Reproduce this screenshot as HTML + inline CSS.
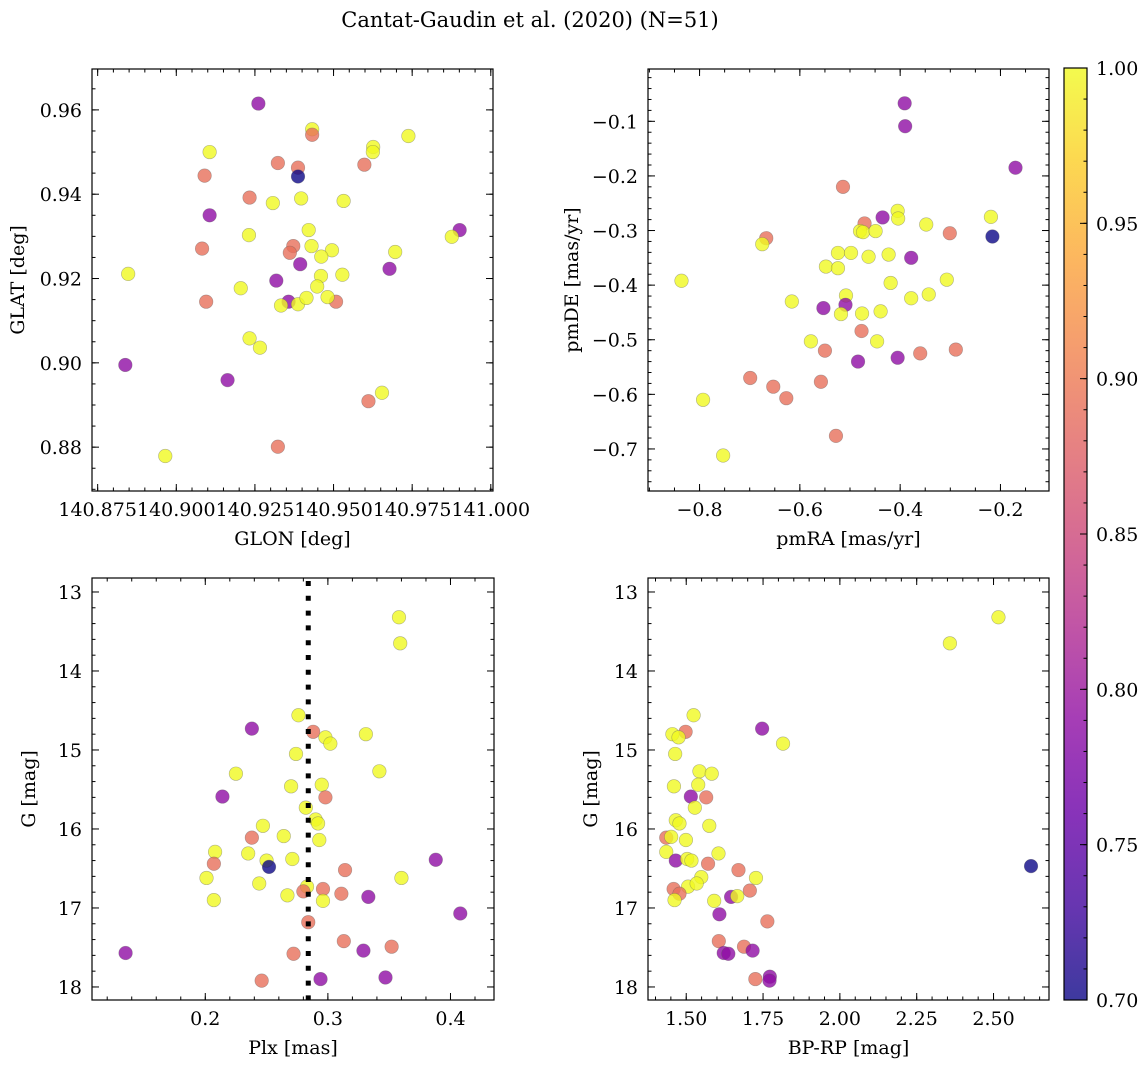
<!DOCTYPE html>
<html><head><meta charset="utf-8">
<style>
html,body{margin:0;padding:0;background:#fff;}
svg{display:block;font-family:"DejaVu Serif","Liberation Serif",serif;}
</style></head>
<body>
<svg id="fig" width="1148" height="1068" viewBox="0 0 1148 1068" xmlns="http://www.w3.org/2000/svg">
<text x="530" y="27" font-size="21" text-anchor="middle">Cantat-Gaudin et al. (2020) (N=51)</text>
</svg>
<script>
// ---- data: panel 1 (GLON vs GLAT) ----
const glon = [140.9261,140.9432,140.9432,140.9738,140.9626,140.9625,140.9106,140.9323,140.9387,140.9387,140.9598,140.9090,140.9233,140.9397,140.9307,140.9532,140.9106,140.9901,140.9876,140.9421,140.9231,140.9372,140.9361,140.9082,140.9430,140.9495,140.9461,140.9696,140.9394,140.9678,140.8847,140.9318,140.9460,140.9528,140.9205,140.9448,140.9357,140.9095,140.9508,140.9333,140.9387,140.9414,140.9481,140.9233,140.9266,140.8838,140.9163,140.9654,140.9611,140.9323,140.8965];
const glat = [0.9615,0.9554,0.9541,0.9538,0.9512,0.9500,0.9500,0.9474,0.9463,0.9442,0.9470,0.9444,0.9392,0.9390,0.9379,0.9384,0.9350,0.9315,0.9299,0.9315,0.9303,0.9277,0.9261,0.9271,0.9277,0.9267,0.9252,0.9263,0.9234,0.9223,0.9211,0.9195,0.9206,0.9209,0.9177,0.9181,0.9145,0.9145,0.9145,0.9136,0.9139,0.9154,0.9156,0.9058,0.9036,0.8995,0.8959,0.8929,0.8909,0.8801,0.8779];
const prob1 = "pyoyyyyoodoooyyyppyyyoooyyyyppypyyyypooyyyyyyppyooy";
// ---- data: panel 2 (pmRA vs pmDE) ----
const pmra = [-0.391,-0.390,-0.170,-0.514,-0.405,-0.404,-0.435,-0.471,-0.480,-0.474,-0.449,-0.348,-0.301,-0.219,-0.216,-0.667,-0.675,-0.524,-0.498,-0.463,-0.423,-0.378,-0.548,-0.524,-0.836,-0.419,-0.307,-0.508,-0.616,-0.553,-0.509,-0.378,-0.343,-0.518,-0.476,-0.439,-0.477,-0.578,-0.446,-0.550,-0.484,-0.405,-0.360,-0.289,-0.699,-0.653,-0.627,-0.558,-0.793,-0.528,-0.753];
const pmde = [-0.067,-0.109,-0.185,-0.220,-0.264,-0.278,-0.276,-0.287,-0.301,-0.303,-0.301,-0.289,-0.305,-0.275,-0.311,-0.314,-0.325,-0.341,-0.341,-0.348,-0.344,-0.350,-0.366,-0.369,-0.392,-0.396,-0.390,-0.419,-0.430,-0.442,-0.436,-0.424,-0.417,-0.453,-0.452,-0.448,-0.484,-0.503,-0.503,-0.520,-0.540,-0.533,-0.525,-0.518,-0.570,-0.586,-0.607,-0.577,-0.610,-0.676,-0.712];
const prob2 = "pppoyypoyyyyoydoyyyyypyyyyyyyppyyyyyoyyoppooooooyoyo";
// ---- data: panel 3 (Plx vs G) ----
const plx = [0.358,0.359,0.276,0.238,0.288,0.298,0.302,0.331,0.274,0.225,0.342,0.270,0.295,0.214,0.298,0.282,0.290,0.292,0.247,0.238,0.264,0.293,0.208,0.235,0.250,0.252,0.271,0.207,0.388,0.314,0.201,0.360,0.244,0.283,0.280,0.296,0.311,0.267,0.333,0.207,0.296,0.408,0.284,0.313,0.329,0.352,0.135,0.272,0.246,0.294,0.347];
const gmag3 = [13.32,13.65,14.56,14.73,14.77,14.84,14.92,14.80,15.05,15.30,15.27,15.46,15.44,15.59,15.60,15.73,15.88,15.93,15.96,16.11,16.09,16.14,16.29,16.31,16.40,16.48,16.38,16.44,16.39,16.52,16.62,16.62,16.69,16.73,16.79,16.76,16.82,16.84,16.86,16.90,16.91,17.07,17.18,17.42,17.54,17.49,17.57,17.58,17.92,17.90,17.88];
const prob3 = "yyypoyyyyyyyypoyyyyoyyyyydyopoyyyyoooypyypoopopoopp";
const plxMarker = [0.284];
// ---- data: panel 4 (BP-RP vs G) ----
const bprp = [2.516,2.358,1.524,1.747,1.498,1.455,1.475,1.815,1.464,1.543,1.583,1.460,1.539,1.515,1.565,1.528,1.466,1.478,1.575,1.435,1.451,1.499,1.435,1.605,1.466,1.503,1.517,2.622,1.571,1.670,1.727,1.549,1.506,1.534,1.459,1.478,1.707,1.462,1.646,1.666,1.591,1.608,1.764,1.606,1.688,1.716,1.622,1.637,1.725,1.772,1.771];
const gmag4 = [13.32,13.65,14.56,14.73,14.77,14.80,14.84,14.92,15.05,15.27,15.30,15.46,15.44,15.59,15.60,15.73,15.89,15.93,15.96,16.11,16.10,16.14,16.29,16.31,16.40,16.38,16.40,16.47,16.44,16.52,16.62,16.61,16.73,16.69,16.76,16.82,16.78,16.90,16.86,16.85,16.91,17.08,17.17,17.42,17.49,17.54,17.57,17.58,17.90,17.87,17.92];
const prob4 = "yyypoyyyyyyyypoyyyyoyyyypyydooyyyyoooypyypooopppoppo";
const probLevels = {y:1.0, o:0.89, p:0.79, d:0.70};
// ---- tick labels ----
const p1xTicks = [140.875,140.900,140.925,140.950,140.975,141.000];
const p1yTicks = [0.88,0.90,0.92,0.94,0.96];
const p2xTicks = [-0.8,-0.6,-0.4,-0.2];
const p2yTicks = [-0.7,-0.6,-0.5,-0.4,-0.3,-0.2,-0.1];
const p3xTicks = [0.2,0.3,0.4];
const gTicks = [13,14,15,16,17,18];
const p4xTicks = [1.50,1.75,2.00,2.25,2.50];
const cbTicks = [0.70,0.75,0.80,0.85,0.90,0.95,1.00];

const NS = "http://www.w3.org/2000/svg";
const svg = document.getElementById('fig');
const FS = 19;
function mk(tag, attrs, parent){const e=document.createElementNS(NS,tag);for(const k in attrs)e.setAttribute(k,attrs[k]);(parent||svg).appendChild(e);return e;}

const plasma = [[13,8,135],[65,4,157],[106,0,168],[143,13,164],[177,42,144],[204,71,120],[225,100,98],[242,132,75],[252,166,54],[252,206,37],[240,249,33]];
function cmap(v){let t=(v-0.7)/0.3;t=Math.max(0,Math.min(1,t));const s=t*10;const i=Math.min(9,Math.floor(s));const f=s-i;const a=plasma[i],b=plasma[i+1];
  return 'rgb('+[0,1,2].map(k=>Math.round(a[k]+(b[k]-a[k])*f)).join(',')+')';}
function fmt(v){return v<0?'\u2212'+Math.abs(v).toString():String(v);}

function panel(o){
  const g=mk('g',{});
  
  
  const sx=v=>o.x0+(v-o.xd[0])/(o.xd[1]-o.xd[0])*(o.x1-o.x0);
  const sy=o.inv? (v=>o.y0+(v-o.yd[0])/(o.yd[1]-o.yd[0])*(o.y1-o.y0)) : (v=>o.y1-(v-o.yd[0])/(o.yd[1]-o.yd[0])*(o.y1-o.y0));
  const tg=mk('g',{stroke:'#000','stroke-width':1},g);
  const eps=1e-9;
  function ticks(dom,step,cb){const s=Math.ceil((Math.min(dom[0],dom[1])-eps)/step);for(let k=s;k*step<=Math.max(dom[0],dom[1])+eps;k++)cb(k*step);}
  ticks(o.xd,o.xminor,v=>{const x=sx(v);mk('line',{x1:x,x2:x,y1:o.y1,y2:o.y1-3.5},tg);mk('line',{x1:x,x2:x,y1:o.y0,y2:o.y0+3.5},tg);});
  ticks(o.yd,o.yminor,v=>{const y=sy(v);mk('line',{x1:o.x0,x2:o.x0+3.5,y1:y,y2:y},tg);mk('line',{x1:o.x1,x2:o.x1-3.5,y1:y,y2:y},tg);});
  o.xt.forEach(v=>{const x=sx(v);mk('line',{x1:x,x2:x,y1:o.y1,y2:o.y1-7},tg);mk('line',{x1:x,x2:x,y1:o.y0,y2:o.y0+7},tg);
    const t=mk('text',{x:x,y:o.y1+25,'font-size':FS,'text-anchor':'middle'},g);t.textContent=o.xfmt(v);
    
    });
  o.yt.forEach(v=>{const y=sy(v);mk('line',{x1:o.x0,x2:o.x0+7,y1:y,y2:y},tg);mk('line',{x1:o.x1,x2:o.x1-7,y1:y,y2:y},tg);
    const t=mk('text',{x:o.x0-10,y:y+7,'font-size':FS,'text-anchor':'end'},g);t.textContent=o.yfmt(v);
    
    });
  const pg=mk('g',{},g);
  
  
  for(let i=0;i<o.xs.length;i++){
    const c=mk('circle',{cx:sx(o.xs[i]),cy:sy(o.ys[i]),r:6.8,fill:cmap(probLevels[o.c[i]]),'fill-opacity':0.8,stroke:'rgba(90,90,90,0.45)','stroke-width':0.6},pg);
    
    
  }
  if(o.vline){o.vline.forEach(v=>{const l=mk('line',{x1:sx(v),x2:sx(v),y1:o.y0+3,y2:o.y1,stroke:'#000','stroke-width':5,'stroke-dasharray':'5 9.8'},g);
    
    });}
  const fr=mk('rect',{x:o.x0,y:o.y0,width:o.x1-o.x0,height:o.y1-o.y0,fill:'none',stroke:'#000','stroke-width':1.2},g);
  
  
  const xl=mk('text',{x:(o.x0+o.x1)/2,y:o.y1+54,'font-size':FS,'text-anchor':'middle'},g);xl.textContent=o.xlabel;
  
  
  const yx=o.ylx, yy=(o.y0+o.y1)/2;
  const yl=mk('text',{x:yx,y:yy,'font-size':FS,'text-anchor':'middle',transform:'rotate(-90 '+yx+' '+yy+')'},g);yl.textContent=o.ylabel;
  
  
}

panel({name:'glon-glat-panel',x0:92,x1:493,y0:69,y1:491,xd:[140.8732,141.0007],yd:[0.8696,0.9697],xs:glon,ys:glat,c:prob1,
  xt:p1xTicks,yt:p1yTicks,xminor:0.005,yminor:0.005,xfmt:v=>v.toFixed(3),yfmt:v=>v.toFixed(2),xlabel:'GLON [deg]',ylabel:'GLAT [deg]',ylx:24});
panel({name:'proper-motion-panel',x0:648,x1:1049,y0:69,y1:491,xd:[-0.9028,-0.1032],yd:[-0.777,-0.0042],xs:pmra,ys:pmde,c:prob2,
  xt:p2xTicks,yt:p2yTicks,xminor:0.05,yminor:0.02,xfmt:v=>fmt(+v.toFixed(1)),yfmt:v=>fmt(+v.toFixed(1)),xlabel:'pmRA [mas/yr]',ylabel:'pmDE [mas/yr]',ylx:578});
panel({name:'plx-g-panel',x0:92,x1:494,y0:578,y1:1000,xd:[0.1076,0.4355],yd:[12.823,18.165],inv:true,xs:plx,ys:gmag3,c:prob3,vline:plxMarker,
  xt:p3xTicks,yt:gTicks,xminor:0.02,yminor:0.2,xfmt:v=>v.toFixed(1),yfmt:v=>String(v),xlabel:'Plx [mas]',ylabel:'G [mag]',ylx:35});
panel({name:'cmd-panel',x0:648,x1:1049,y0:578,y1:1000,xd:[1.3756,2.6805],yd:[12.823,18.165],inv:true,xs:bprp,ys:gmag4,c:prob4,
  xt:p4xTicks,yt:gTicks,xminor:0.05,yminor:0.2,xfmt:v=>v.toFixed(2),yfmt:v=>String(v),xlabel:'BP-RP [mag]',ylabel:'G [mag]',ylx:597});

// ---- colorbar ----
const cb=mk('g',{});


const defs=mk('defs',{},cb);
const lg=mk('linearGradient',{id:'cbg',x1:0,y1:1,x2:0,y2:0},defs);
for(let i=0;i<=20;i++){const v=0.7+0.3*i/20;mk('stop',{offset:(i/20),'stop-color':cmap(v),'stop-opacity':0.8},lg);}
const cbx0=1064,cbx1=1087,cby0=68,cby1=1000;
const cy=v=>cby1-(v-0.7)/0.3*(cby1-cby0);
mk('rect',{x:cbx0,y:cby0,width:cbx1-cbx0,height:cby1-cby0,fill:'url(#cbg)'},cb);
for(let k=70;k<=100;k++){const y=cy(k/100);mk('line',{x1:cbx1,x2:cbx1-3.5,y1:y,y2:y,stroke:'#000','stroke-width':1},cb);}
cbTicks.forEach(v=>{const y=cy(v);mk('line',{x1:cbx1,x2:cbx1-7,y1:y,y2:y,stroke:'#000','stroke-width':1},cb);
  const t=mk('text',{x:1096,y:y+7,'font-size':FS},cb);t.textContent=v.toFixed(2);
  
  });
mk('rect',{x:cbx0,y:cby0,width:cbx1-cbx0,height:cby1-cby0,fill:'none',stroke:'#000','stroke-width':1.2},cb);
</script>
</body></html>
